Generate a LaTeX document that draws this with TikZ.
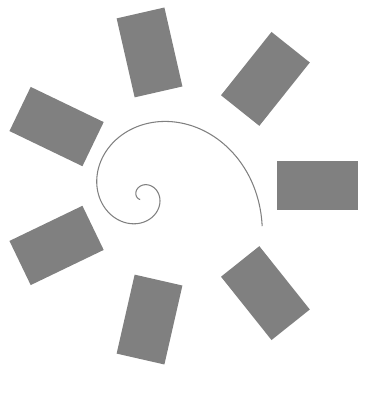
\documentclass[tikz,border=0pt]{standalone}
\usepackage{tikz}
\usetikzlibrary{positioning}

\begin{document}
\begin{tikzpicture}[
    blade/.style={fill=gray, inner sep=0pt, minimum width=16.2mm, minimum height=9.8mm},
    spiral/.style={draw=gray, line width=0.6pt}
  ]
  \useasboundingbox (-3.6,-4.6) rectangle (3.76,3.72);

  % Blades round the ring
  \foreach \i in {0,...,6}{
    \node[blade, rotate=\i*360/7] (blade\i) at ({\i*360/7}:2.74) {};
  }

  % Golden spiral in the middle
  \coordinate (pole) at (-0.75,-0.19);
  \draw[spiral, shift={(pole)}] plot[domain=-14.4:600, samples=300, variable=\t, smooth]
    (\t:{2.288*exp(-0.3063*rad(\t))});

\end{tikzpicture}
\end{document}
